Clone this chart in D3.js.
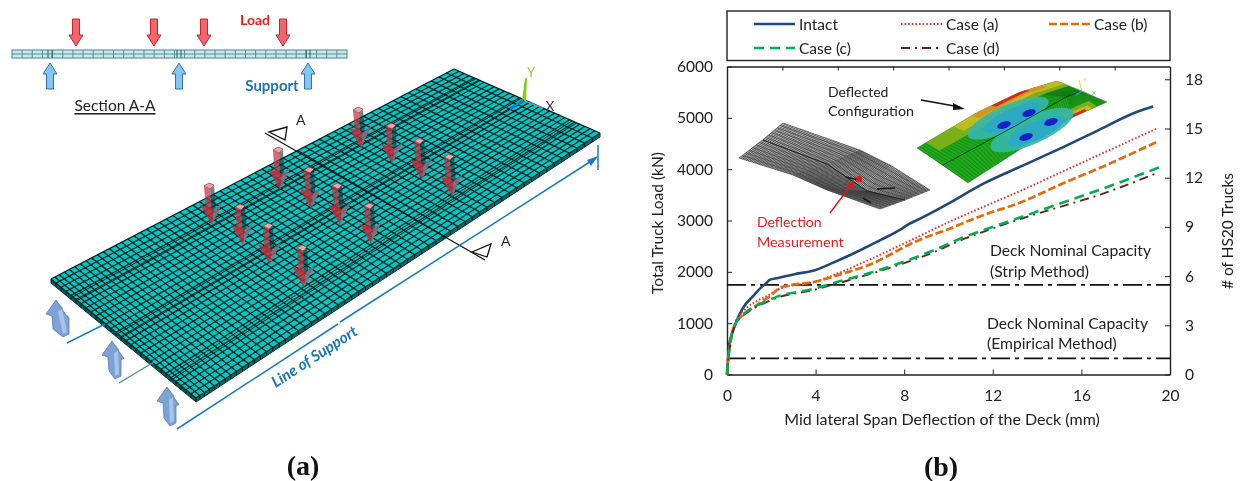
<!DOCTYPE html>
<html><head><meta charset="utf-8">
<script src="https://cdn.jsdelivr.net/npm/d3@7"></script>
<style>html,body{margin:0;padding:0;background:#fff;overflow:hidden}svg{display:block;filter:blur(0.35px)}text{font-family:Lato,"Open Sans",sans-serif}</style>
</head><body><svg id="c" width="1241" height="481"></svg>
<script>
// ---------- chart data (deflection mm, load kN)
const intactX=[0,0.05,0.1,0.2,0.36,0.71,1.23,1.58,1.78,1.92,2.3,3,4,4.8,5.73,6.94,7.8,8.15,8.85,9.89,11.62,13.35,15.08,16.8,18.55,19.24];
const intactY=[0,300,575,760,965,1290,1550,1712,1780,1842,1880,1950,2037,2180,2362,2622,2817,2914,3064,3304,3727,4070,4409,4766,5123,5220];
const caseAX=[0,0.05,0.15,0.36,0.88,1.3,1.75,2.44,4,5.04,6.4,8.33,9.9,11.6,13.35,15.08,16.8,19.45];
const caseAY=[0,300,640,1003,1296,1420,1517,1680,1810,1978,2232,2622,2947,3271,3596,3941,4279,4800];
const caseBX=[0,0.05,0.15,0.36,1.05,1.5,1.92,2.44,4,5.04,6.4,8.68,9.9,11.6,13.35,15.08,16.8,19.45];
const caseBY=[0,280,620,965,1257,1400,1517,1700,1810,1940,2134,2622,2817,3109,3368,3707,4019,4538];
const caseCX=[0,0.05,0.15,0.36,0.88,1.58,2.27,3.83,5.04,6.4,8,9.37,10.75,11.6,13.35,15.08,16.8,19.5];
const caseCY=[0,280,620,965,1224,1388,1517,1661,1810,1973,2199,2427,2686,2817,3076,3337,3596,4032];
const caseDX=[0,0.05,0.15,0.36,0.88,1.58,2.27,3.83,5.04,6.4,8,9.37,10.75,11.6,13.35,15.08,16.8,19.5];
const caseDY=[0,270,600,950,1200,1370,1495,1640,1780,1950,2170,2390,2650,2784,3044,3271,3499,3941];
const capacityStrip=1745, capacityEmpirical=315;
const leftTicks=[0,1000,2000,3000,4000,5000,6000];
const rightTicks=[0,3,6,9,12,15,18];
const bottomTicks=[0,4,8,12,16,20];
const topTicks=[2.5,5,7.5,10,12.5,15,17.5];
const seriesNames=["Intact","Case (a)","Case (b)","Case (c)","Case (d)"];
const seriesColors=["#1f497d","#ee2a2e","#e46c0a","#00b050","#632523"];
const seriesDash=[null,"1.6 2","8 3","10 6","9 5 2 5"];
const seriesWidth=[2.6,1.9,2.7,2.6,1.9];

// ---------- diagram data
const deckCorners={left:[51,279],top:[454,69],right:[600,133],bottom:[196,398]};
const meshLong=60, meshAcross=29;
const girderV=[0.16,0.19,0.48,0.51,0.54,0.82,0.85];
const loadTops=[[358,107],[391,123],[419,138],[449,154],[278,147],[309,167],[337,183],[369,203],[209,183],[240,204],[268,223],[302,245]];
const loadTips=[[361,148],[392,164],[422,180],[452,197],[280,190],[311,209],[340,225],[371,244],[212,225],[243,245],[270,265],[304,288]];
const upTips=[[57,300],[113,341],[168,387]];
const upBases=[[63,337],[115,379],[170,426]];
const sectionLoads=[76,154,204,283];
const sectionSupports=[50,179,308];

const svg=d3.select("#c");
const T=(x,y,s,o={})=>{const t=svg.append("text").attr("x",x).attr("y",y).text(s)
  .attr("font-size",o.size||15).attr("fill",o.fill||"#222").attr("text-anchor",o.anchor||"start")
  .attr("dominant-baseline","central");
  if(o.weight)t.attr("font-weight",o.weight); if(o.style)t.attr("font-style",o.style);
  if(o.font)t.style("font-family",o.font); if(o.rot!==undefined)t.attr("transform",`rotate(${o.rot} ${x} ${y})`);
  if(o.under)t.attr("text-decoration","underline"); return t;};
const poly=pts=>"M"+pts.map(p=>p.join(",")).join("L")+"Z";
const seg=(g,a,b,c,w)=>g.append("line").attr("x1",a[0]).attr("y1",a[1]).attr("x2",b[0]).attr("y2",b[1]).attr("stroke",c).attr("stroke-width",w);

// ---------- deck (a)
const L=deckCorners.left,R=deckCorners.right,Tp=deckCorners.top,B=deckCorners.bottom;
const warp=d3.scalePow().exponent(1.14).domain([0,1]).range([0,1]);
const P=(u,v)=>{u=warp(u);const a=d3.interpolate(B,R)(u),b=d3.interpolate(L,Tp)(u);return d3.interpolate(a,b)(v);};
const gd=svg.append("g");
const th=4;
gd.append("path").attr("d",poly([L,B,[B[0],B[1]+th],[L[0],L[1]+th]])).attr("fill","#0a5a58");
gd.append("path").attr("d",poly([B,R,[R[0],R[1]+th],[B[0],B[1]+th]])).attr("fill","#0a6a68");
gd.append("path").attr("d",poly([L,B,R,Tp])).attr("fill","#00c8c4");
d3.range(meshLong+1).forEach(i=>{const p=P(i/meshLong,0);seg(gd,p,[p[0],p[1]+th],"#062222",1);});
d3.range(meshAcross+1).forEach(j=>{const p=P(0,j/meshAcross);seg(gd,p,[p[0],p[1]+th],"#062222",1);});
seg(gd,[L[0],L[1]+th],[B[0],B[1]+th],"#062222",.9); seg(gd,[B[0],B[1]+th],[R[0],R[1]+th],"#062222",.9);
d3.range(meshLong+1).forEach(i=>seg(gd,P(i/meshLong,0),P(i/meshLong,1),"#052424",1.3));
d3.range(meshAcross+1).forEach(j=>seg(gd,P(0,j/meshAcross),P(1,j/meshAcross),"#052424",1.3));
girderV.forEach(v=>seg(gd,P(0,v),P(1,v),"#0a1414",.9));
// section line & triangles
const ga=svg.append("g");
seg(ga,[265,133],[485,260],"#111",1.2);
ga.append("path").attr("d",poly([[269,132],[287,127],[285,140]])).attr("fill","#fff").attr("stroke","#111").attr("stroke-width",1.3);
ga.append("path").attr("d",poly([[472,252],[491,244],[487,257]])).attr("fill","#fff").attr("stroke","#111").attr("stroke-width",1.3);
T(296,119,"A",{size:14}); T(501,240,"A",{size:14});
// 3D load arrows
loadTops.forEach((t,i)=>{const e=loadTips[i],g=svg.append("g");
  const dx=e[0]-t[0],l=e[1]-t[1],neck=t[1]+l*.6,nx=t[0]+dx*.6;
  g.append("path").attr("d",poly([[t[0]-5,t[1]+3],[t[0]+1,t[1]+6],[nx+1,neck+3],[nx-5,neck]])).attr("fill","#c8323f").attr("opacity",.72);
  g.append("path").attr("d",poly([[t[0]+1,t[1]+6],[t[0]+5,t[1]+3],[nx+5,neck],[nx+1,neck+3]])).attr("fill","#1c3038").attr("opacity",.62);
  g.append("path").attr("d",poly([[t[0]-5,t[1]+3],[t[0],t[1]],[t[0]+5,t[1]+2],[t[0]+1,t[1]+6]])).attr("fill","#eaa4aa").attr("stroke","#a03440").attr("stroke-width",.7);
  g.append("path").attr("d",poly([[nx-11,neck-4],[nx+3,neck+1],[e[0],e[1]]])).attr("fill","#c42a38").attr("opacity",.82);
  g.append("path").attr("d",poly([[nx+3,neck+1],[nx+12,neck-6],[e[0],e[1]]])).attr("fill","#8a6c7a").attr("opacity",.9);
});
// 3D support arrows
upTips.forEach((t,i)=>{const b=upBases[i],g=svg.append("g");
  const l=b[1]-t[1],n=t[1]+l*.42,bx=b[0];
  g.append("path").attr("d",poly([[t[0]-1,t[1]],[t[0]+11,t[1]+18],[t[0]+7,t[1]+20],[t[0]+6,t[1]+8]])).attr("fill","#a9a9ad");
  g.append("path").attr("d",poly([[t[0]-1,t[1]],[t[0]-11,t[1]+14],[t[0]-5,t[1]+16],[t[0]-4,b[1]-8],[bx,b[1]],[bx+6,b[1]-3],[bx+6,n+2],[t[0]+10,n],[t[0]+11,t[1]+18]])).attr("fill","#7da3d6").attr("stroke","#5a7fb3").attr("stroke-width",.8);
  g.append("path").attr("d",poly([[t[0]+1,n-4],[t[0]+5,n-6],[bx+4,b[1]-5],[bx,b[1]-3]])).attr("fill","#a9c3e6");
});
// support lines
const lb="#1b7ac8";
seg(svg,[67,343],[105,324],lb,1.4); seg(svg,[119,383],[154,362],"#4a87c4",1.4);
seg(svg,[177,429],[338,324],lb,1.5); seg(svg,[340,322],[596,158],lb,1.5); seg(svg,[598,145],[598,170],lb,1.5);
svg.append("path").attr("d",poly([[598,156],[587,160],[591,166]])).attr("fill",lb);
T(314,356,"Line of Support",{fill:"#1c75bc",weight:700,style:"italic",size:15.5,anchor:"middle",rot:-33});
// triad
svg.append("path").attr("d",poly([[525,78],[527,78],[526,101],[522,101]])).attr("fill","#7fd01e");
seg(svg,[510,109],[524,100],"#1a78d0",2.5); seg(svg,[525,101],[543,108],"#a0a0a0",1.2);
T(531,72,"Y",{fill:"#9acb3a",size:13,anchor:"middle"}); T(550,106,"X",{fill:"#333",size:13,anchor:"middle"});

// ---------- section A-A
const gs=svg.append("g");
gs.append("rect").attr("x",12).attr("y",50).attr("width",335).attr("height",8).attr("fill","#cfe6e8").attr("stroke","#3f8a92").attr("stroke-width",1);
seg(gs,[12,54],[347,54],"#3f8a92",.9);
const sx=d3.scaleLinear().domain([0,33]).range([12,347]);
d3.range(1,33).forEach(i=>seg(gs,[sx(i),50],[sx(i),58],"#3f8a92",.9));
sectionSupports.forEach(v=>{seg(gs,[v-2,50],[v-2,58],"#245f68",1);seg(gs,[v+2,50],[v+2,58],"#245f68",1);});
sectionLoads.forEach(v=>gs.append("path").attr("d",poly([[v-3.5,19],[v+3.5,19],[v+3.5,35],[v+7,35],[v,46],[v-7,35],[v-3.5,35]])).attr("fill","#f0666a").attr("stroke","#c4232b").attr("stroke-width",1));
sectionSupports.forEach(v=>gs.append("path").attr("d",poly([[v,63],[v+7,74],[v+3.5,74],[v+3.5,89],[v-3.5,89],[v-3.5,74],[v-7,74]])).attr("fill","#80c8f2").attr("stroke","#3b6ea6").attr("stroke-width",1));
T(255,19,"Load",{fill:"#f01c1c",weight:700,anchor:"middle",size:14});
T(272,85,"Support",{fill:"#1c75bc",weight:700,anchor:"middle",size:15});
T(115,105,"Section A-A",{anchor:"middle",size:15.5,under:true});
T(303,465,"(a)",{font:'"Liberation Serif",serif',weight:700,size:28,anchor:"middle",fill:"#111"});
T(941,466,"(b)",{font:'"Liberation Serif",serif',weight:700,size:28,anchor:"middle",fill:"#111"});

// ---------- chart (b)
const x=d3.scaleLinear().domain([0,20]).range([727,1170]);
const y=d3.scaleLinear().domain([0,6000]).range([374.5,66.5]);
const y2=d3.scaleLinear().domain([0,18.78]).range([374.5,66.5]);
const style=(g)=>{g.select(".domain").attr("stroke","#222").attr("stroke-width",1.4);g.selectAll(".tick line").attr("stroke","#222").attr("stroke-width",1);g.selectAll("text").style("font-family","Lato,sans-serif").attr("font-size",15.5).attr("fill","#222");};
svg.append("g").attr("transform","translate(0,374.5)").call(d3.axisBottom(x).tickValues(bottomTicks).tickSize(-5).tickPadding(15).tickSizeOuter(0)).call(style);
svg.append("g").attr("transform","translate(0,66.5)").call(d3.axisTop(x).tickValues(topTicks).tickSize(-4).tickSizeOuter(0).tickFormat("")).call(style);
svg.append("g").attr("transform","translate(727,0)").call(d3.axisLeft(y).tickValues(leftTicks).tickFormat(d3.format("d")).tickSize(-5).tickPadding(14).tickSizeOuter(0)).call(style);
svg.append("g").attr("transform","translate(1170,0)").call(d3.axisRight(y2).tickValues(rightTicks).tickSize(-5).tickPadding(15).tickSizeOuter(0)).call(style);
T(942,418,"Mid lateral Span Deflection of the Deck (mm)",{anchor:"middle",size:16});
T(657,223,"Total Truck Load (kN)",{anchor:"middle",rot:-90,size:15.5});
T(1227,231,"# of HS20 Trucks",{anchor:"middle",rot:-90,size:15.5});

// insets
const grey=[[[783,123],[860,150],[890,165],[930,190]],[[763,140],[827,164],[867,191],[905,200]],[[739,158],[793,175],[827,190],[880,209]]];
const lineG=d3.line().curve(d3.curveLinear);
const mixPts=(rows,s,t)=>{const n=rows.length-1,ri=Math.min(n-1,Math.floor(s*n)),rf=s*n-ri;
  const at=r=>{const m=r.length-1,i=Math.min(m-1,Math.floor(t*m));return d3.interpolate(r[i],r[i+1])(t*m-i);};
  return d3.interpolate(at(rows[ri]),at(rows[ri+1]))(rf);};
const inset=(rows,base,nL,nT,c,w)=>{const g=svg.append("g");
  const out=[...d3.range(0,1.001,.05).map(t=>mixPts(rows,0,t)),...d3.range(1,-.001,-.05).map(t=>mixPts(rows,1,t))];
  g.append("path").attr("d",poly(out)).attr("fill",base);
  d3.range(nT+1).forEach(i=>g.append("path").attr("d",lineG(d3.range(0,1.001,.1).map(s=>mixPts(rows,s,i/nT)))).attr("fill","none").attr("stroke",c).attr("stroke-width",w));
  d3.range(nL+1).forEach(i=>g.append("path").attr("d",lineG(d3.range(0,1.001,.05).map(t=>mixPts(rows,i/nL,t)))).attr("fill","none").attr("stroke",c).attr("stroke-width",w*.8));
  return g;};
const gg=inset(grey,"#a8a8a8",14,90,"#3a3a3a",.7);
gg.append("path").attr("d",lineG(grey[1])).attr("fill","none").attr("stroke","#222").attr("stroke-width",1);
[[[846,177],[858,180]],[[863,198],[871,203]],[[877,189],[895,188]]].forEach(s=>seg(gg,s[0],s[1],"#1a1a1a",1.6));
svg.append("circle").attr("cx",859).attr("cy",179).attr("r",3).attr("fill","#f01010");
seg(svg,[830,213],[851,185],"#f01010",1.4);
svg.append("path").attr("d",poly([[854,181],[847,185],[852,189]])).attr("fill","#f01010");
T(757,221,"Deflection",{fill:"#f01c1c",size:14});
T(757,241,"Measurement",{fill:"#f01c1c",size:14.3});

const green=[[[917,148],[978,112],[1020,92],[1057,81]],[[943,165],[1017,125],[1066,97],[1082,91]],[[968,183],[1027,145],[1073,117],[1107,102]]];
const gr=inset(green,"#20a81c",2,70,"#0d6a10",.45);
const band=(s0,s1,t0,t1,c,o)=>{const ts=d3.range(t0,t1+.001,(t1-t0)/10);
  gr.append("path").attr("d",poly([...ts.map(t=>mixPts(green,s0,t)),...ts.slice().reverse().map(t=>mixPts(green,s1,t))])).attr("fill",c).attr("opacity",o);};
band(0,.24,.05,1,"#86b01c",.9); band(0,.15,.2,1,"#c8bc20",.9); band(0,.09,.3,.85,"#d89020",.95); band(0,.05,.44,.72,"#d8241c",1);
band(.8,1,.3,.9,"#86b01c",.9); band(.88,1,.35,.85,"#c8bc20",.9); band(.94,1,.42,.8,"#d8241c",1);
const ell=(cx,cy,a,b,col,o)=>gr.append("ellipse").attr("cx",cx).attr("cy",cy).attr("rx",a).attr("ry",b).attr("transform",`rotate(-24 ${cx} ${cy})`).attr("fill",col).attr("opacity",o);
ell(1008,118,44,13,"#35b8a8",.9); ell(1032,130,45,14,"#35b8a8",.9);
ell(1012,118,31,9,"#2ba8c8",.9); ell(1036,131,31,9,"#2ba8c8",.9);
[[1004,125],[1029,113],[1026,137],[1051,122]].forEach(c=>gr.append("ellipse").attr("cx",c[0]).attr("cy",c[1]).attr("rx",7).attr("ry",3.4).attr("transform",`rotate(-18 ${c[0]} ${c[1]})`).attr("fill","#1420c8"));
gr.append("path").attr("d",lineG(green[1])).attr("fill","none").attr("stroke","#0a4a0c").attr("stroke-width",.9);
seg(svg,[1082,92],[1079,80],"#c8e040",1); T(1083,79,"Y",{fill:"#c8e040",size:6}); T(1092,92,"X",{fill:"#999",size:6}); seg(svg,[1076,95],[1082,91],"#30a0d0",1.5);
T(828,91,"Deflected",{size:14}); T(828,110,"Configuration",{size:14.3});
seg(svg,[921,100],[960,107],"#111",1.5);
svg.append("path").attr("d",poly([[965,109],[953,103],[953,110]])).attr("fill","#111");

// capacity lines
[capacityStrip,capacityEmpirical].forEach(v=>svg.append("line").attr("x1",x(0)).attr("x2",x(20)).attr("y1",y(v)).attr("y2",y(v)).attr("stroke","#111").attr("stroke-width",1.6).attr("stroke-dasharray","19 5 4 5"));
T(990,250,"Deck Nominal Capacity",{size:15.7}); T(990,271,"(Strip Method)",{size:15.7});
T(987,323,"Deck Nominal Capacity",{size:15.7}); T(987,343,"(Empirical Method)",{size:15.7});

// curves
const curve=d3.line().x(d=>x(d[0])).y(d=>y(d[1])).curve(d3.curveMonotoneX);
[[intactX,intactY],[caseAX,caseAY],[caseBX,caseBY],[caseDX,caseDY],[caseCX,caseCY]].forEach((s,i)=>{
  const k=[0,1,2,4,3][i];
  const p=svg.append("path").datum(d3.zip(s[0],s[1])).attr("d",curve).attr("fill","none").attr("stroke",seriesColors[k]).attr("stroke-width",seriesWidth[k]);
  if(seriesDash[k])p.attr("stroke-dasharray",seriesDash[k]);
});

// legend
svg.append("rect").attr("x",727).attr("y",11).attr("width",443).attr("height",49.5).attr("fill","none").attr("stroke","#222").attr("stroke-width",1.4);
const legendX=[754,901,1049,754,901], legendRow=[24,24,24,48,48];
seriesNames.forEach((n,i)=>{const lx=legendX[i],ly=legendRow[i];
  const l=svg.append("line").attr("x1",lx).attr("x2",lx+41).attr("y1",ly).attr("y2",ly).attr("stroke",seriesColors[i]).attr("stroke-width",seriesWidth[i]);
  if(seriesDash[i])l.attr("stroke-dasharray",seriesDash[i]);
  T(lx+45,ly-.5,n,{size:15.5});
});
</script></body></html>
